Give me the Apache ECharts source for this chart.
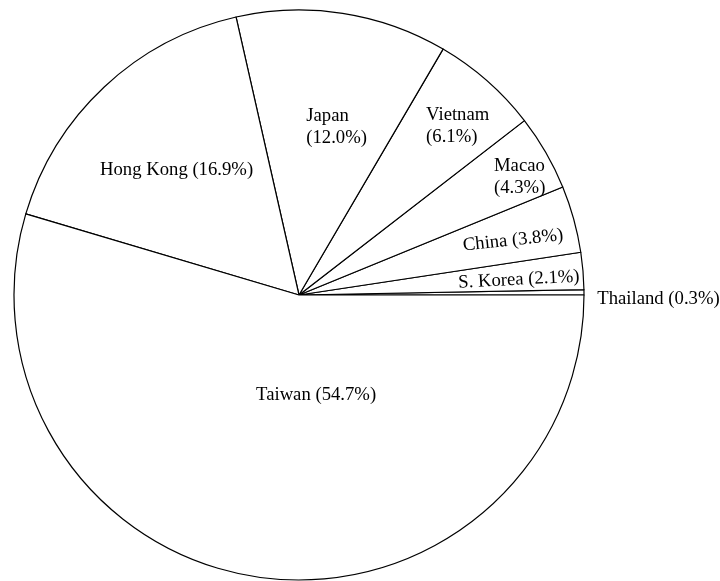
<!DOCTYPE html>
<html>
<head>
<meta charset="utf-8">
<script src="https://cdn.jsdelivr.net/npm/echarts@6/dist/echarts.min.js"></script>
<style>
html,body{margin:0;padding:0;background:#fff;}
#chart{width:720px;height:581px;}
</style>
</head>
<body>
<div id="chart"></div>
<script>
// Data (counter-clockwise from 3 o'clock)
const categories = ['Thailand', 'S. Korea', 'China', 'Macao', 'Vietnam', 'Japan', 'Hong Kong', 'Taiwan'];
const shares = [0.3, 2.1, 3.8, 4.3, 6.1, 12.0, 16.9, 54.7];
const twoLineLabels = ['Macao', 'Vietnam', 'Japan'];

// Label placement tweaks (offset from the default inner label position)
const labelTweaks = [
  { dx: 214, dy: 5, align: 'center', rotate: 0 },
  { dx: 75, dy: 1, align: 'center', rotate: 3 },
  { dx: 75, dy: -8, align: 'center', rotate: 6 },
  { dx: 69, dy: -45, align: 'left', rotate: 0 },
  { dx: 31, dy: -60, align: 'left', rotate: 0 },
  { dx: -15, dy: -24, align: 'left', rotate: 0 },
  { dx: -23, dy: -19, align: 'center', rotate: 0 },
  { dx: 38, dy: -44, align: 'center', rotate: 0 }
];

const chart = echarts.init(document.getElementById('chart'), null, { renderer: 'canvas' });
chart.setOption({
  animation: false,
  backgroundColor: '#ffffff',
  series: [{
    type: 'pie',
    center: [299, 295],
    radius: [0, 285],
    startAngle: 0,
    clockwise: false,
    avoidLabelOverlap: false,
    emphasis: { disabled: true, scale: false },
    itemStyle: { color: '#ffffff', borderColor: '#000000', borderWidth: 1.2 },
    label: {
      show: true,
      position: 'inside',
      color: '#000000',
      fontFamily: "'Liberation Serif', 'Times New Roman', serif",
      fontSize: 18.7,
      lineHeight: 22,
      formatter: function (p) {
        const sep = twoLineLabels.indexOf(p.name) >= 0 ? '\n' : ' ';
        return p.name + sep + '(' + p.value.toFixed(1) + '%)';
      }
    },
    labelLine: { show: false },
    labelLayout: function (params) {
      const t = labelTweaks[params.dataIndex];
      return { dx: t.dx, dy: t.dy, align: t.align, verticalAlign: 'middle', rotate: t.rotate };
    },
    data: categories.map(function (c, i) { return { name: c, value: shares[i] }; })
  }]
});
</script>
</body>
</html>
